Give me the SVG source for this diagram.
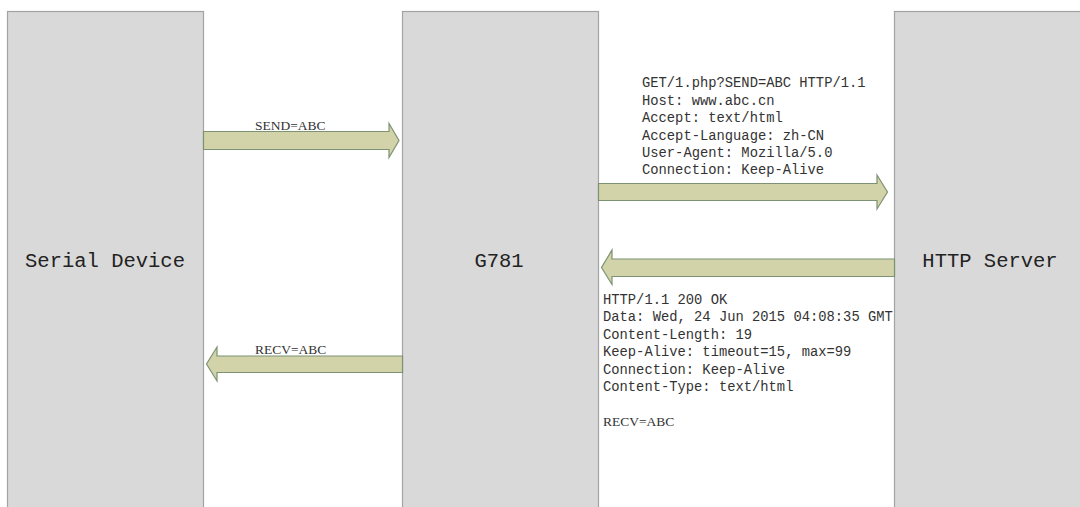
<svg xmlns="http://www.w3.org/2000/svg" width="1080" height="507" viewBox="0 0 1080 507">
<style>
.box{fill:#d9d9d9;stroke:#a3a3a3;stroke-width:1.2}
.arrow{fill:#d3d3aa;stroke:#7d9273;stroke-width:1.2}
.big{font-family:"Liberation Mono",monospace;font-size:20.5px;fill:#222;text-anchor:middle}
.mono{font-family:"Liberation Mono",monospace;font-size:13.8px;fill:#333}
.ser{font-family:"Liberation Serif",serif;font-size:13.5px;fill:#333}
</style>
<rect width="1080" height="507" fill="#fff"/>
<g id="serial-device">
<rect class="box" x="7.5" y="11.5" width="196" height="510"/>
<text class="big" x="105" y="267">Serial Device</text>
</g>
<g id="g781">
<rect class="box" x="402.5" y="11.5" width="196" height="510"/>
<text class="big" x="499" y="267">G781</text>
</g>
<g id="http-server">
<rect class="box" x="894.5" y="11.5" width="196" height="510"/>
<text class="big" x="990" y="267">HTTP Server</text>
</g>
<g id="connectors">
<polygon class="arrow" points="203.5,131.5 389,131.5 389,123.5 399,140.5 389,157.5 389,149.5 203.5,149.5"/>
<text class="ser" x="255" y="129.5">SEND=ABC</text>
<polygon class="arrow" points="598.5,183.5 877,183.5 877,175 887.5,192 877,209 877,200.5 598.5,200.5"/>
<text class="mono"><tspan x="642" y="87.3">GET/1.php?SEND=ABC HTTP/1.1</tspan><tspan x="642" y="104.7">Host: www.abc.cn</tspan><tspan x="642" y="122.1">Accept: text/html</tspan><tspan x="642" y="139.5">Accept-Language: zh-CN</tspan><tspan x="642" y="156.9">User-Agent: Mozilla/5.0</tspan><tspan x="642" y="174.3">Connection: Keep-Alive</tspan></text>
<polygon class="arrow" points="894.5,259 612,259 612,250 601.5,267.5 612,284.5 612,276.5 894.5,276.5"/>
<text class="mono"><tspan x="603" y="304">HTTP/1.1 200 OK</tspan><tspan x="603" y="321.4">Data: Wed, 24 Jun 2015 04:08:35 GMT</tspan><tspan x="603" y="338.8">Content-Length: 19</tspan><tspan x="603" y="356.2">Keep-Alive: timeout=15, max=99</tspan><tspan x="603" y="373.6">Connection: Keep-Alive</tspan><tspan x="603" y="391">Content-Type: text/html</tspan></text>
<text class="ser" x="603" y="426">RECV=ABC</text>
<polygon class="arrow" points="402.5,356 217,356 217,347 206.5,364 217,381 217,372.5 402.5,372.5"/>
<text class="ser" x="255" y="353.5">RECV=ABC</text>
</g>
</svg>
